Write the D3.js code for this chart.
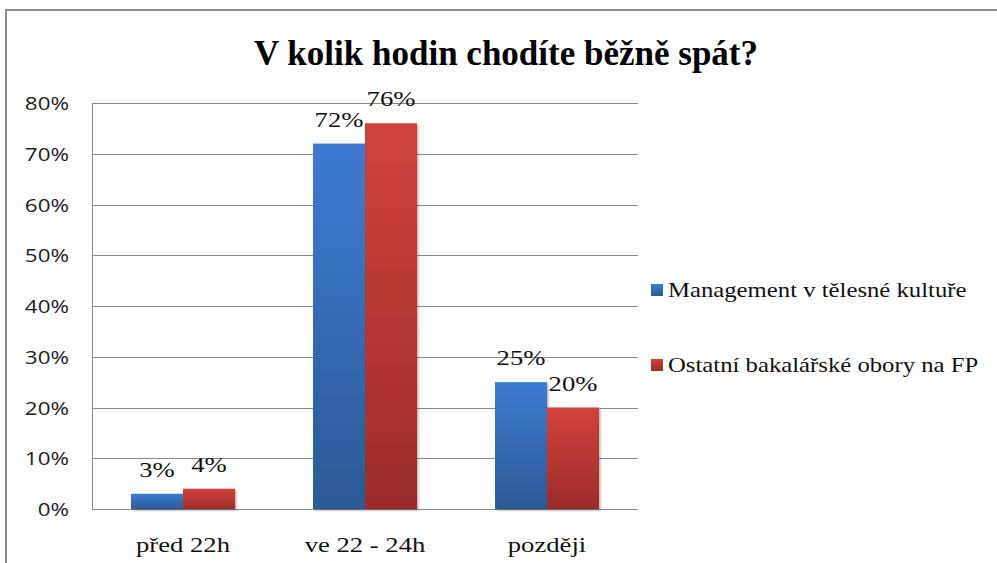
<!DOCTYPE html>
<html><head><meta charset="utf-8">
<script src="https://cdn.jsdelivr.net/npm/d3@7"></script>
<style>body{margin:0;background:#fff}svg{display:block}</style>
</head><body>
<svg id="c" width="997" height="563"></svg>
<script>
const categories = ["před 22h", "ve 22 - 24h", "později"];
const seriesNames = ["Management v tělesné kultuře", "Ostatní bakalářské obory na FP"];
const seriesA = [3, 72, 25];
const seriesB = [4, 76, 20];
const yTicks = [0, 10, 20, 30, 40, 50, 60, 70, 80];
const title = "V kolik hodin chodíte běžně spát?";

const svg = d3.select("#c");
const W = 997, H = 563;
const m = {left: 92, right: 638, top: 103, bottom: 509};
const SERIF = "'Liberation Serif', 'Times New Roman', serif";
const SANS = "'Open Sans', 'DejaVu Sans', sans-serif";

// outer frame
svg.append("path").attr("d", `M6,${H} V10 H${W}`).attr("fill","none").attr("stroke","#8c8c8c").attr("stroke-width",2);

const defs = svg.append("defs");
const gradDefs = [["gA","#3c7bd0","#2c5a97"],["gB","#d2413b","#9c2c29"]];
gradDefs.forEach(([id,c1,c2])=>{
  const g = defs.append("linearGradient").attr("id",id).attr("x1",0).attr("y1",0).attr("x2",0).attr("y2",1);
  g.append("stop").attr("offset","0%").attr("stop-color",c1);
  g.append("stop").attr("offset","100%").attr("stop-color",c2);
});
const f = defs.append("filter").attr("id","sh").attr("x","-20%").attr("y","-20%").attr("width","150%").attr("height","150%");
f.append("feDropShadow").attr("dx",1.5).attr("dy",1.5).attr("stdDeviation",1.2).attr("flood-color","#000").attr("flood-opacity",0.3);

const y = d3.scaleLinear().domain([0,80]).range([m.bottom, m.top]);
const x = d3.scaleBand().domain(categories).range([m.left, m.right]);
const xs = d3.scaleBand().domain([0,1]).range([0, x.bandwidth()]).paddingInner(0).paddingOuter(0.75);

// gridlines
svg.append("g").selectAll("line").data(yTicks).join("line")
  .attr("x1", m.left).attr("x2", m.right)
  .attr("y1", d=>Math.round(y(d))+0.5).attr("y2", d=>Math.round(y(d))+0.5)
  .attr("stroke","#8a8a8a").attr("stroke-width",1);

// y axis
const yAxis = d3.axisLeft(y).tickValues(yTicks).tickFormat(d=>d+"%").tickSize(0).tickPadding(0);
const ga = svg.append("g").attr("transform",`translate(${m.left},0)`).call(yAxis);
ga.select(".domain").attr("stroke","#8a8a8a").attr("d",`M0.5,${m.top}V${m.bottom+0.5}`);
ga.selectAll("text").attr("x",0).attr("transform","translate(-23,0) scale(1.18,1)")
  .attr("font-family",SANS).attr("font-size",19).attr("fill","#222").attr("dy","0.35em");

// bars
const series = [seriesA, seriesB];
series.forEach((vals,si)=>{
  const g = svg.append("g");
  g.selectAll("rect").data(vals).join("rect")
    .attr("x",(d,i)=>x(categories[i])+xs(si))
    .attr("y",d=>y(d))
    .attr("width",xs.bandwidth())
    .attr("height",d=>m.bottom - y(d))
    .attr("fill",`url(#${gradDefs[si][0]})`)
    .attr("filter","url(#sh)");
  g.selectAll("text").data(vals).join("text")
    .attr("transform",(d,i)=>`translate(${x(categories[i])+xs(si)+xs.bandwidth()/2},${y(d)-17}) scale(1.3,1)`)
    .attr("text-anchor","middle")
    .attr("font-family",SERIF)
    .attr("font-size",20.5).attr("fill","#111")
    .text(d=>d+"%");
});

// x labels
const xAxis = d3.axisBottom(x).tickSize(0).tickPadding(0);
const gx = svg.append("g").attr("transform",`translate(0,${m.bottom})`).call(xAxis);
gx.select(".domain").remove();
gx.selectAll("text").attr("y",0).attr("dy",0).attr("transform","translate(0,43) scale(1.27,1)")
  .attr("font-family",SERIF).attr("font-size",21).attr("fill","#111");

// title
svg.append("text").attr("x",506).attr("y",65).attr("text-anchor","middle")
  .attr("font-family",SERIF).attr("font-weight","bold")
  .attr("font-size",35).attr("fill","#000").text(title);

// legend
const leg = svg.append("g");
const legY = [297, 372];
seriesNames.forEach((n,i)=>{
  leg.append("rect").attr("x",651).attr("y",legY[i]-13).attr("width",12).attr("height",12)
    .attr("fill",`url(#${gradDefs[i][0]})`);
  leg.append("text").attr("transform",`translate(668,${legY[i]}) scale(1.15,1)`)
    .attr("font-family",SERIF).attr("font-size",21.5).attr("fill","#111").text(n);
});
</script>
</body></html>
